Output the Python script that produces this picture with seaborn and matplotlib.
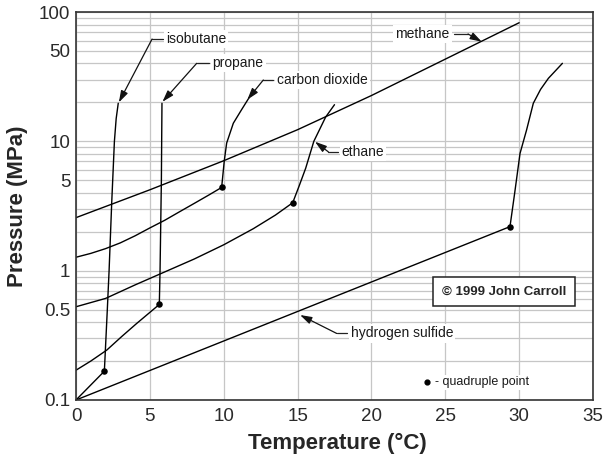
import matplotlib
matplotlib.use("Agg")
import matplotlib.pyplot as plt
import numpy as np
import pandas as pd
import seaborn as sns
from matplotlib.ticker import FixedLocator, LogLocator, NullFormatter

# hydrate formation curves: temperature (C) / pressure (MPa)
methane_t = [0, 5, 10, 15, 20, 25, 30]
methane_p = [2.57, 4.22, 7.08, 12.3, 22.6, 43.2, 82.6]

isobutane_t = [0, 1.92, 2.12, 2.24, 2.42, 2.6, 2.72, 2.86]
isobutane_p = [0.1, 0.167, 0.5, 1.0, 3.4, 10, 15, 19.7]

propane_t = [0, 1, 2.08, 3.1, 4.1, 5.64, 5.69, 5.78, 5.8, 5.82]
propane_p = [0.17, 0.2, 0.243, 0.31, 0.39, 0.548, 1.0, 5.0, 10, 19.7]

co2_t = [0, 1, 2, 3, 4, 5, 6, 7, 8, 9, 9.86,
         10.04, 10.2, 10.65, 11.2, 11.7]
co2_p = [1.27, 1.36, 1.48, 1.64, 1.86, 2.14, 2.45, 2.85, 3.31, 3.85, 4.4,
         7.1, 9.7, 13.8, 17.5, 21.6]

ethane_t = [0, 2, 4, 6, 8, 10, 12, 13.5, 14.67,
            15.1, 15.55, 16.1, 16.9, 17.5]
ethane_p = [0.526, 0.61, 0.776, 0.977, 1.23, 1.585, 2.11, 2.69, 3.35,
            4.5, 6.2, 10.0, 15.4, 19.2]

h2s_t = [0, 29.38, 29.7, 30.06, 30.5, 30.96, 31.45, 31.98, 32.93]
h2s_p = [0.1, 2.19, 4.0, 8.07, 12.2, 19.7, 25.2, 30.7, 40.1]

# quadruple points
qp_t = [1.92, 5.64, 9.86, 14.67, 29.38]
qp_p = [0.167, 0.548, 4.4, 3.35, 2.19]

y_ticks = [0.1, 0.5, 1, 5, 10, 50, 100]
y_labels = ["0.1", "0.5", "1", "5", "10", "50", "100"]
x_ticks = [0, 5, 10, 15, 20, 25, 30, 35]

curves = {
    "methane": (methane_t, methane_p),
    "isobutane": (isobutane_t, isobutane_p),
    "propane": (propane_t, propane_p),
    "carbon dioxide": (co2_t, co2_p),
    "ethane": (ethane_t, ethane_p),
    "hydrogen sulfide": (h2s_t, h2s_p),
}
frames = []
for name, (t, p) in curves.items():
    frames.append(pd.DataFrame({"T": t, "P": p, "gas": name}))
df = pd.concat(frames, ignore_index=True)

sns.set_style("white")
plt.rcParams["font.family"] = ["Liberation Sans", "DejaVu Sans"]

fig = plt.figure(figsize=(6.05, 4.59), dpi=100)
ax = fig.add_axes([76 / 605, 1 - 400 / 459, 517 / 605, 388 / 459])

sns.lineplot(data=df, x="T", y="P", units="gas", estimator=None, sort=False,
             color="black", lw=1.0, ax=ax, legend=False)
sns.scatterplot(x=qp_t, y=qp_p, color="black", s=22, edgecolor="black",
                linewidth=0, ax=ax, zorder=5)

ax.set_yscale("log")
ax.set_xlim(0, 35)
ax.set_ylim(0.1, 100)
ax.yaxis.set_major_locator(FixedLocator(y_ticks))
ax.set_yticklabels(y_labels)
ax.yaxis.set_minor_locator(LogLocator(base=10, subs=np.arange(2, 10)))
ax.yaxis.set_minor_formatter(NullFormatter())
ax.set_xticks(x_ticks)
ax.set_xticklabels([str(v) for v in x_ticks])
ax.tick_params(axis="both", which="both", length=0, labelsize=13.5,
               labelcolor="#2a2a2a")
ax.tick_params(axis="x", pad=6)
ax.tick_params(axis="y", pad=4)

ax.set_axisbelow(True)
ax.grid(True, axis="y", which="both", color="#c6c6c6", lw=0.9)
ax.grid(True, axis="x", which="major", color="#c6c6c6", lw=0.9)
for s in ax.spines.values():
    s.set_color("#333333")
    s.set_linewidth(1.2)

ax.set_xlabel("")
ax.set_ylabel("")
fig.text(337 / 605, 1 - 443 / 459, "Temperature (°C)", fontsize=16,
         fontweight="bold", ha="center", va="center")
fig.text(18 / 605, 1 - 206 / 459, "Pressure (MPa)", fontsize=16,
         fontweight="bold", ha="center", va="center", rotation=90)

# curve labels with leader lines: text pos, text alignment, leader start, corner, arrow tip
labels = [
    ("isobutane", (6.09, 61.8), "left", 5.89, 5.15, (2.9, 20.0)),
    ("propane", (9.25, 40.1), "left", 9.0, 8.17, (5.85, 20.2)),
    ("carbon dioxide", (13.59, 29.8), "left", 13.35, 12.68, (11.6, 21.0)),
    ("methane", (25.3, 67.6), "right", 25.6, 26.54, (27.47, 58.9)),
    ("ethane", (17.99, 8.3), "left", 17.75, 17.08, (16.18, 9.93)),
    ("hydrogen sulfide", (18.6, 0.327), "left", 18.36, 17.65, (15.17, 0.454)),
]
for text, (tx, ty), ha, x0, x1, tip in labels:
    ax.text(tx, ty, text, fontsize=10, ha=ha, va="center", color="#1a1a1a",
            bbox=dict(fc="white", ec="none", pad=1.5), zorder=6)
    ax.plot([x0, x1], [ty, ty], color="#222222", lw=0.9, zorder=6)
    ax.annotate("", xy=tip, xytext=(x1, ty),
                arrowprops=dict(arrowstyle="-|>,head_length=0.7,head_width=0.22",
                                color="#111111", lw=0.9, shrinkA=0, shrinkB=0,
                                mutation_scale=10), zorder=7)

ax.text(28.98, 0.689, "© 1999 John Carroll", fontsize=9.5, fontweight="bold",
        ha="center", va="center", zorder=6,
        bbox=dict(boxstyle="square,pad=0.65", fc="white", ec="#222222", lw=1.1))

ax.scatter([23.76], [0.137], color="black", s=12, zorder=6)
ax.text(24.3, 0.137, "- quadruple point", fontsize=9, ha="left", va="center",
        color="#1a1a1a", bbox=dict(fc="white", ec="none", pad=1), zorder=6)

fig.savefig("out.png", dpi=100, facecolor="white")
